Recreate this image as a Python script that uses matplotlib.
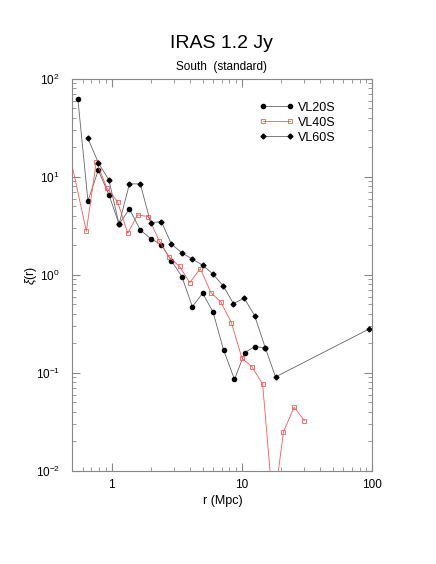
import numpy as np
import matplotlib
matplotlib.use('Agg')
from matplotlib import pyplot as plt
from matplotlib.ticker import LogLocator, NullFormatter

plt.rcParams['font.family'] = ['Liberation Sans', 'DejaVu Sans']
plt.rcParams['mathtext.fontset'] = 'custom'
plt.rcParams['mathtext.rm'] = 'Liberation Sans'
plt.rcParams['mathtext.it'] = 'Liberation Sans:italic'

# VL20S
r20 = [0.551, 0.658, 0.79, 0.953, 1.14, 1.37, 1.66, 1.99, 2.41, 2.87,
       3.46, 4.16, 4.99, 5.99, 7.22, 8.76, 10.5, 12.5, 15.1]
xi20 = [62.5, 5.7, 11.7, 6.6, 3.3, 4.7, 2.88, 2.35, 2.04, 1.40,
        0.96, 0.475, 0.65, 0.42, 0.172, 0.086, 0.161, 0.186, 0.18]

# VL40S
r40 = [0.445, 0.64, 0.763, 0.92, 1.11, 1.33, 1.58, 1.91, 2.31, 2.75,
       3.32, 3.98, 4.79, 5.78, 6.88, 8.3, 10.0, 11.9, 14.4, 17.4,
       20.8, 25.1, 30.1]
xi40 = [26, 2.8, 14.3, 7.7, 5.6, 2.66, 4.1, 3.94, 2.24, 1.53,
        1.22, 0.835, 1.16, 0.66, 0.53, 0.326, 0.141, 0.116, 0.077, 0.004,
        0.025, 0.0447, 0.0326]

# VL60S
r60 = [0.658, 0.79, 0.953, 1.14, 1.37, 1.66, 1.99, 2.41, 2.87, 3.46,
       4.16, 4.99, 5.99, 7.19, 8.6, 10.4, 12.5, 15.1, 18.1, 94.4]
xi60 = [24.8, 14.0, 9.3, 3.3, 8.5, 8.5, 3.42, 3.5, 2.07, 1.68,
        1.45, 1.26, 1.02, 0.77, 0.51, 0.58, 0.385, 0.18, 0.091, 0.281]

fig = plt.figure(figsize=(4.36, 5.64), dpi=100)
ax = fig.add_axes([0.166, 0.165, 0.688, 0.695])

gris = '#666666'
rojo = '#ff5555'

ax.plot(r20, xi20, '-', color=gris, lw=0.6, marker='o', ms=3.0,
        mfc='k', mec='k', label='VL20S')
ax.plot(r40, xi40, '-', color=rojo, lw=0.6, marker='s', ms=2.5,
        mfc='none', mec=rojo, mew=0.6, label='VL40S')
ax.plot(r60, xi60, '-', color=gris, lw=0.6, marker='D', ms=2.5,
        mfc='k', mec='k', label='VL60S')

ax.set_xscale('log')
ax.set_yscale('log')
ax.set_xlim(0.5, 100)
ax.set_ylim(1e-2, 1e2)

for s in ax.spines.values():
    s.set_color('#888888')
    s.set_linewidth(0.8)

ax.tick_params(which='both', direction='in', top=True, right=True,
               color='#888888', labelsize=8.5)
ax.tick_params(which='major', length=6, width=0.8)
ax.tick_params(which='minor', length=3, width=0.6)
ax.tick_params(axis='y', pad=9)
ax.tick_params(axis='x', pad=6)
ax.xaxis.set_minor_locator(LogLocator(base=10, subs=np.arange(2, 10)))
ax.yaxis.set_minor_locator(LogLocator(base=10, subs=np.arange(2, 10)))
ax.xaxis.set_minor_formatter(NullFormatter())
ax.yaxis.set_minor_formatter(NullFormatter())
ax.set_xticks([1, 10, 100])
ax.set_xticklabels(['1', '10', '100'])

ax.set_xlabel('r (Mpc)', fontsize=9)
ax.set_ylabel(r'$\xi$(r)', fontsize=9)
ax.xaxis.set_label_coords(0.5, -0.062)
ax.yaxis.set_label_coords(-0.11, 0.5)

fig.text(0.507, 0.923, 'IRAS 1.2 Jy', ha='center', va='center', fontsize=14)
fig.text(0.507, 0.881, 'South  (standard)', ha='center', va='center', fontsize=8.5)

ax.legend(loc='upper left', bbox_to_anchor=(0.605, 0.955), frameon=False,
          fontsize=9, handlelength=2.8, numpoints=2, labelspacing=0.25,
          handletextpad=0.3, borderaxespad=0)

fig.savefig('out.png', dpi=100)
